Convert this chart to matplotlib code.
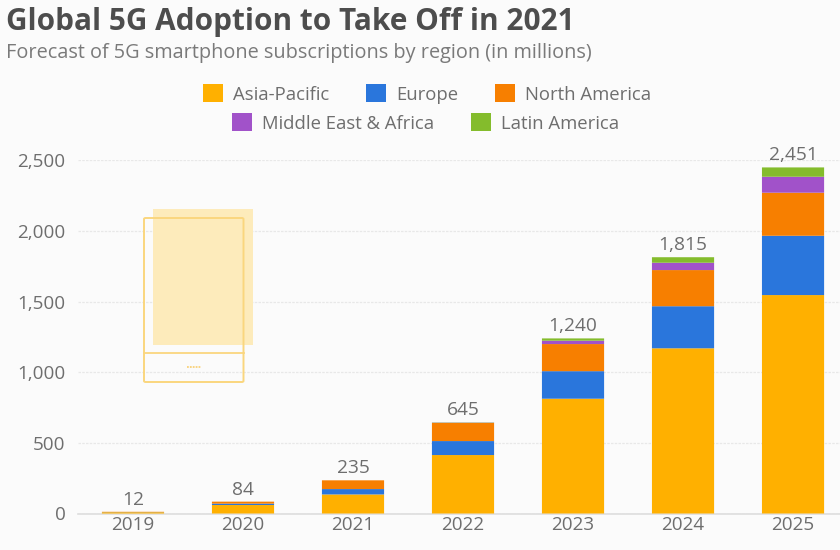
import matplotlib
matplotlib.use("Agg")
import matplotlib.pyplot as plt
from matplotlib.patches import Rectangle, FancyBboxPatch
from matplotlib.lines import Line2D

years = ["2019", "2020", "2021", "2022", "2023", "2024", "2025"]
asia_pacific = [9, 60, 135, 414, 813, 1170, 1547]
europe = [1, 10, 38, 99, 195, 298, 420]
north_america = [2, 14, 62, 128, 192, 256, 305]
middle_east_africa = [0, 0, 0, 2, 24, 52, 113]
latin_america = [0, 0, 0, 2, 16, 39, 66]
totals = [12, 84, 235, 645, 1240, 1815, 2451]
y_ticks = [0, 500, 1000, 1500, 2000, 2500]

series = [("Asia-Pacific", asia_pacific, "#FFB000"),
          ("Europe", europe, "#2A76DC"),
          ("North America", north_america, "#F77F00"),
          ("Middle East & Africa", middle_east_africa, "#A152C9"),
          ("Latin America", latin_america, "#84BC2C")]

W, H = 840, 550
BG = "#FBFBFB"
TXT = "#6E6E6E"
plt.rcParams["font.family"] = ["Open Sans", "DejaVu Sans"]

fig = plt.figure(figsize=(W/100, H/100), dpi=100, facecolor=BG)
ax = fig.add_axes([78/W, 1-513.5/H, (W-78)/W, 353/H], facecolor="none")

# faded phone illustration behind the chart (figure pixel coordinates)
def px(x, y):
    return x/W, 1-y/H
fig.patches.append(Rectangle(px(153, 345), 100/W, 136/H, transform=fig.transFigure,
                             fc="#FDEBBB", ec="none", zorder=0))
phone = "#FAD67E"
fig.patches.append(FancyBboxPatch(px(144, 382), 99.5/W, 164/H, boxstyle="round,pad=0,rounding_size=0.002",
                                  transform=fig.transFigure, fc="none", ec=phone, lw=1.4, zorder=0))
fig.add_artist(Line2D([144/W, 243.5/W], [1-353/H, 1-353/H], color=phone, lw=1.3, zorder=0))
fig.add_artist(Line2D([187/W, 201/W], [1-367/H, 1-367/H], color="#F9D27A", lw=1.3, ls=(0, (1, 0.6)), zorder=0))

ax.set_axisbelow(True)
ax.grid(axis="y", color="#E8E8E8", lw=0.9, ls=(0, (2, 1)))
xs = list(range(len(years)))
bottom = [0]*len(years)
handles = {}
for name, vals, col in series:
    b = ax.bar(xs, vals, bottom=bottom, width=0.565, color=col, label=name, lw=0, zorder=3)
    for r in b:
        r.set_snap(False)
    handles[name] = b
    bottom = [p+q for p, q in zip(bottom, vals)]
for x, t in zip(xs, totals):
    ax.text(x, t+22, f"{t:,}", ha="center", va="bottom", fontsize=13.8, color=TXT, zorder=4)

ax.set_xlim(-0.5, 6.427)
ax.set_ylim(0, 2500)
ax.set_xticks(xs, years)
ax.set_yticks(y_ticks, [f"{v:,}" for v in y_ticks])
ax.tick_params(axis="both", length=0, labelsize=13.6, labelcolor=TXT)
ax.tick_params(axis="x", pad=2)
ax.tick_params(axis="y", pad=9)
for s in ["top", "right", "left"]:
    ax.spines[s].set_visible(False)
ax.spines["bottom"].set_color("#DDDDDD")
ax.spines["bottom"].set_linewidth(1.2)

fig.text(6/W, 1-22/H, "Global 5G Adoption to Take Off in 2021", fontsize=21.4, fontweight="bold",
         color="#4D4D4D", va="center", ha="left")
fig.text(6/W, 1-53/H, "Forecast of 5G smartphone subscriptions by region (in millions)", fontsize=14.3,
         color="#7A7A7A", va="center", ha="left")

common = dict(frameon=False, fontsize=13.3, labelcolor=TXT, handlelength=1.08, handleheight=1.08,
              borderpad=0, borderaxespad=0, handletextpad=0.54, loc="center")
row1 = ["Asia-Pacific", "Europe", "North America"]
row2 = ["Middle East & Africa", "Latin America"]
fig.legend([handles[n] for n in row1], row1, ncol=3, columnspacing=2.0,
           bbox_to_anchor=(427/W, 1-94/H), **common)
fig.legend([handles[n] for n in row2], row2, ncol=2, columnspacing=2.0,
           bbox_to_anchor=(426/W, 1-123/H), **common)

fig.savefig("out.png", dpi=100, facecolor=BG)
